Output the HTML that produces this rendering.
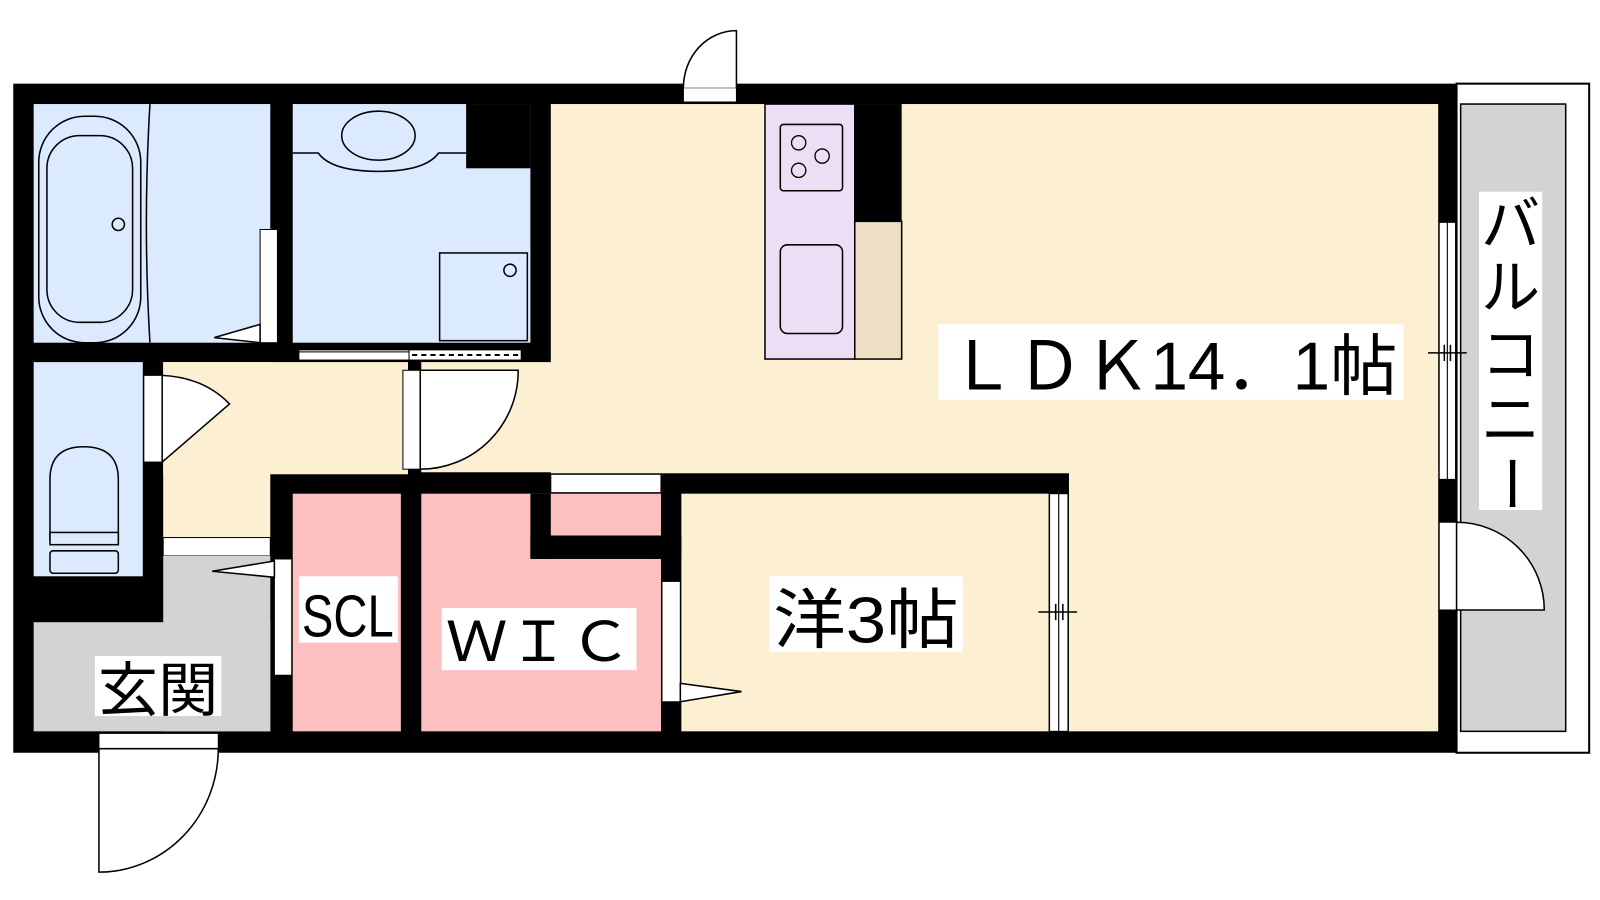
<!DOCTYPE html>
<html><head><meta charset="utf-8"><style>
html,body{margin:0;padding:0;background:#fff;}
svg{display:block;}
text{font-family:"Liberation Sans","Noto Sans CJK JP",sans-serif;fill:#000;}
</style></head><body>
<svg width="1600" height="900" viewBox="0 0 1600 900" xmlns="http://www.w3.org/2000/svg">
<g transform="scale(1.02)">
<!-- balcony -->
<rect x="1428" y="82" width="130" height="656" fill="#fff" stroke="#000" stroke-width="2"/>
<rect x="1432" y="102" width="103" height="615" fill="#d3d3d3" stroke="#000" stroke-width="1.5"/>
<!-- outer wall block -->
<rect x="13" y="82" width="1415" height="656" fill="#000"/>
<!-- rooms -->
<rect x="33" y="102" width="232" height="234" fill="#dbeafe"/>
<rect x="287" y="102" width="233" height="234" fill="#dbeafe"/>
<rect x="457" y="102" width="63" height="63" fill="#000"/>
<rect x="33" y="355" width="107" height="210" fill="#dbeafe"/>
<rect x="160" y="355" width="240" height="110" fill="#fdf0d2"/>
<rect x="160" y="355" width="105" height="172" fill="#fdf0d2"/>
<rect x="160" y="527" width="105" height="18" fill="#fff" stroke="#000" stroke-width="1"/>
<rect x="160" y="545" width="105" height="172" fill="#d3d3d3"/>
<rect x="33" y="610" width="232" height="107" fill="#d3d3d3"/>
<rect x="540" y="102" width="870" height="362" fill="#fdf0d2"/>
<rect x="413" y="355" width="130" height="108" fill="#fdf0d2"/>
<rect x="1048" y="462" width="362" height="255" fill="#fdf0d2"/>
<rect x="668" y="484" width="360" height="233" fill="#fdf0d2"/>
<rect x="287" y="484" width="106" height="233" fill="#fdc0c0"/>
<rect x="413" y="484" width="235" height="233" fill="#fdc0c0"/>
<rect x="520" y="484" width="20" height="64" fill="#000"/>
<rect x="520" y="525" width="148" height="23" fill="#000"/>
<rect x="540" y="465" width="108" height="18" fill="#fff" stroke="#000" stroke-width="1"/>
<!-- kitchen -->
<rect x="750" y="102" width="88" height="250" fill="#ecdff5" stroke="#000" stroke-width="1.5"/>
<rect x="838" y="102" width="46" height="115" fill="#000"/>
<rect x="838" y="217" width="46" height="135" fill="#eddfc6" stroke="#000" stroke-width="1.5"/>
<rect x="765" y="122" width="61" height="65" rx="3" fill="none" stroke="#000" stroke-width="1.5"/>
<g fill="none" stroke="#000" stroke-width="1.3">
<circle cx="783" cy="140" r="7"/><circle cx="806" cy="153" r="7"/><circle cx="783" cy="167" r="7"/>
</g>
<rect x="765" y="240" width="61" height="87" rx="7" fill="none" stroke="#000" stroke-width="1.5"/>
<!-- bath fixtures -->
<rect x="38" y="114" width="100" height="222" rx="45" fill="none" stroke="#000" stroke-width="1.5"/>
<rect x="46" y="133" width="84" height="183" rx="32" fill="none" stroke="#000" stroke-width="1.5"/>
<circle cx="116" cy="220" r="6" fill="none" stroke="#000" stroke-width="1.5"/>
<path d="M147 102 Q140 220 147 336" fill="none" stroke="#000" stroke-width="1.5"/>
<rect x="255" y="225" width="17" height="111" fill="#fff" stroke="#000" stroke-width="1"/>
<path d="M255 318 L210 331 L255 336 Z" fill="#fff" stroke="#000" stroke-width="1.5"/>
<!-- washroom -->
<ellipse cx="371" cy="133" rx="36" ry="24" fill="none" stroke="#000" stroke-width="1.5"/>
<path d="M287 150 L312 150 Q325 168 371 168 Q417 168 430 150 L457 150" fill="none" stroke="#000" stroke-width="1.5"/>
<rect x="431" y="248" width="86" height="86" fill="none" stroke="#000" stroke-width="1.5"/>
<circle cx="500" cy="265" r="6" fill="none" stroke="#000" stroke-width="1.5"/>
<rect x="293" y="343" width="108" height="9" fill="#fff" stroke="#000" stroke-width="1"/>
<rect x="293" y="345" width="108" height="8" fill="#fff" stroke="#000" stroke-width="1"/>
<rect x="401" y="343" width="110" height="10" fill="#fff" stroke="#000" stroke-width="1"/>
<line x1="404" y1="348" x2="508" y2="348" stroke="#000" stroke-width="2" stroke-dasharray="5,4"/>
<!-- toilet -->
<path d="M49 530 L49 470 Q49 438 82 438 Q116 438 116 470 L116 530" fill="none" stroke="#000" stroke-width="1.5"/>
<rect x="49" y="522" width="67" height="12" fill="#dbeafe" stroke="#000" stroke-width="1.5"/>
<rect x="49" y="540" width="67" height="22" rx="3" fill="#dbeafe" stroke="#000" stroke-width="1.5"/>
<!-- toilet door -->
<rect x="141" y="368" width="18" height="85" fill="#fff" stroke="#000" stroke-width="1"/>
<path d="M159 368 Q200 370 225 396 L159 453 Z" fill="#fff" stroke="#000" stroke-width="1.5"/>
<!-- hall door to LDK -->
<rect x="395" y="363" width="17" height="97" fill="#fff" stroke="#000" stroke-width="1"/>
<path d="M412 363 L508 363 A96 96 0 0 1 412 460 Z" fill="#fff" stroke="#000" stroke-width="1.5"/>
<!-- SCL door -->
<rect x="269" y="548" width="17" height="114" fill="#fff" stroke="#000" stroke-width="1"/>
<path d="M269 550 L208 560 L269 566 Z" fill="#fff" stroke="#000" stroke-width="1.5"/>
<!-- WIC door -->
<rect x="649" y="570" width="18" height="118" fill="#fff" stroke="#000" stroke-width="1"/>
<path d="M667 670 L727 678 L667 688 Z" fill="#fff" stroke="#000" stroke-width="1.5"/>
<!-- yo sliding -->
<rect x="1029" y="484" width="9" height="233" fill="#fff" stroke="#000" stroke-width="1"/>
<rect x="1038" y="484" width="9" height="233" fill="#fff" stroke="#000" stroke-width="1"/>
<line x1="1018" y1="600" x2="1056" y2="600" stroke="#000" stroke-width="1.5"/>
<line x1="1035" y1="592" x2="1035" y2="608" stroke="#000" stroke-width="1.5"/>
<line x1="1042" y1="592" x2="1042" y2="608" stroke="#000" stroke-width="1.5"/>
<!-- right window -->
<rect x="1411" y="218" width="8" height="252" fill="#fff" stroke="#000" stroke-width="1"/>
<rect x="1419" y="218" width="8" height="252" fill="#fff" stroke="#000" stroke-width="1"/>
<line x1="1400" y1="346" x2="1438" y2="346" stroke="#000" stroke-width="1.5"/>
<line x1="1416" y1="338" x2="1416" y2="354" stroke="#000" stroke-width="1.5"/>
<line x1="1422" y1="338" x2="1422" y2="354" stroke="#000" stroke-width="1.5"/>
<!-- balcony door -->
<rect x="1411" y="512" width="17" height="86" fill="#fff" stroke="#000" stroke-width="1"/>
<path d="M1428 512 A86 86 0 0 1 1514 598 L1428 598 Z" fill="#fff" stroke="#000" stroke-width="1.5"/>
<!-- top door -->
<rect x="670" y="86" width="52" height="14" fill="#fff" stroke="#000" stroke-width="1"/>
<path d="M722 86 L722 30 A52 56 0 0 0 670 86" fill="#fff" stroke="#000" stroke-width="1.5"/>
<!-- entrance door -->
<rect x="97" y="719" width="117" height="15" fill="#fff" stroke="#000" stroke-width="1"/>
<path d="M97 734 L214 734 A117 121 0 0 1 97 855 Z" fill="#fff" stroke="#000" stroke-width="1.5"/>
<!-- labels -->
<rect x="920" y="318" width="456" height="74" fill="#fff"/>
<text x="930" y="382" font-size="66" textLength="440" lengthAdjust="spacingAndGlyphs">ＬＤＫ14．1帖</text>
<rect x="1450" y="188" width="62" height="312" fill="#fff"/>
<g font-size="58" text-anchor="middle">
<text x="1481" y="240">バ</text><text x="1481" y="302">ル</text><text x="1481" y="368">コ</text><text x="1481" y="432">ニ</text><text x="1481" y="494" transform="rotate(90 1481 474)">ー</text>
</g>
<rect x="754" y="565" width="190" height="74" fill="#fff"/>
<text x="758" y="630" font-size="64" textLength="182" lengthAdjust="spacingAndGlyphs">洋3帖</text>
<rect x="433" y="596" width="191" height="61" fill="#fff"/>
<text x="437" y="648" font-size="54" textLength="182" lengthAdjust="spacingAndGlyphs">ＷＩＣ</text>
<rect x="293" y="565" width="97" height="65" fill="#fff"/>
<text x="296" y="624" font-size="58" textLength="90" lengthAdjust="spacingAndGlyphs">SCL</text>
<rect x="93" y="643" width="124" height="59" fill="#fff"/>
<text x="96" y="697" font-size="58" textLength="118" lengthAdjust="spacingAndGlyphs">玄関</text>
</g>
</svg>
</body></html>
